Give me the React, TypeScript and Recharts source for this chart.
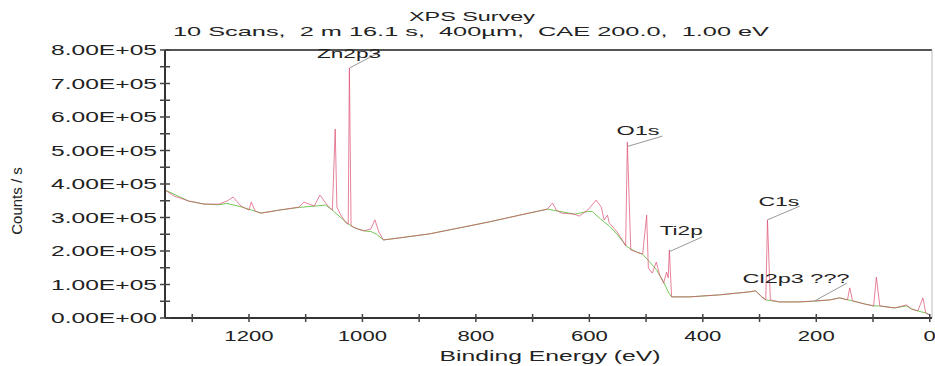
import React from 'react';
import { LineChart, Line, XAxis, YAxis, ReferenceLine, ReferenceDot } from 'recharts';

// survey spectrum, binding energy (eV) vs counts/s
const rawEnergy = [
  1348, 1332, 1306, 1279, 1253, 1239, 1228, 1214, 1200, 1196, 1189, 1179, 1147, 1112, 1103, 1085,
  1075, 1062, 1053, 1048, 1045, 1038, 1029, 1025, 1023, 1020, 1009, 997, 985, 978, 971, 963, 935,
  882, 829, 776, 723, 674, 665, 658, 649, 626, 618, 603, 588, 579, 574, 568, 565, 551, 542, 536,
  533, 527, 517, 506, 499, 496, 489, 482, 476, 469, 464, 461, 459, 455, 424, 371, 318, 307, 296,
  289, 286, 281, 265, 229, 203, 176, 159, 145, 141, 136, 115, 99, 94, 88, 62, 41, 32, 21, 12, 7, 0,
];
const rawCounts = [
  382000, 364000, 349000, 340000, 340000, 349000, 361000, 334000, 322000, 346000, 319000, 313000,
  322000, 331000, 346000, 334000, 367000, 337000, 322000, 564000, 331000, 307000, 284000, 280000,
  746000, 275000, 266000, 260000, 266000, 293000, 257000, 233000, 239000, 251000, 269000, 287000,
  307000, 325000, 343000, 322000, 313000, 310000, 304000, 322000, 352000, 331000, 293000, 307000,
  284000, 257000, 233000, 215000, 525000, 203000, 197000, 191000, 307000, 149000, 134000, 167000,
  128000, 104000, 137000, 120000, 203000, 63000, 63000, 69000, 78000, 81000, 63000, 54000, 293000,
  54000, 48000, 48000, 51000, 54000, 60000, 54000, 90000, 51000, 42000, 36000, 122000, 36000,
  30000, 39000, 27000, 21000, 60000, 15000, 9000,
];

// fitted background
const bgEnergy = [
  1348, 1306, 1279, 1253, 1239, 1214, 1189, 1179, 1147, 1112, 1085, 1065, 1055, 1045, 1035, 1025,
  1015, 997, 985, 975, 963, 935, 882, 829, 776, 723, 674, 658, 626, 603, 595, 580, 565, 551, 542,
  533, 517, 506, 496, 482, 470, 460, 455, 424, 371, 318, 307, 296, 289, 281, 265, 229, 203, 176,
  159, 136, 115, 99, 88, 62, 41, 32, 21, 7, 0,
];
const bgCounts = [
  382000, 349000, 340000, 338000, 342000, 332000, 319000, 313000, 322000, 330000, 334000, 337000,
  325000, 310000, 295000, 281000, 270000, 260000, 258000, 250000, 233000, 239000, 251000, 269000,
  287000, 307000, 325000, 320000, 310000, 318000, 318000, 295000, 275000, 250000, 230000, 212000,
  197000, 190000, 172000, 145000, 110000, 75000, 63000, 63000, 69000, 78000, 81000, 63000, 54000,
  52000, 48000, 48000, 50000, 54000, 60000, 51000, 42000, 36000, 36000, 30000, 36000, 27000,
  21000, 15000, 9000,
];

const xTicks = [0, 100, 200, 300, 400, 500, 600, 700, 800, 900, 1000, 1100, 1200, 1300];
const yTicks = [
  0, 50000, 100000, 150000, 200000, 250000, 300000, 350000, 400000, 450000, 500000, 550000,
  600000, 650000, 700000, 750000, 800000,
];

// peak labels: peak position, label anchor, end of leader line
const peakNames = ['Zn2p3', 'O1s', 'Ti2p', 'C1s', 'Cl2p3 ???'];
const peakEnergy = [1023, 533, 459, 286, 203];
const peakCounts = [746000, 512000, 198000, 293000, 51000];
const labelEnergy = [1080, 552, 476, 302, 330];
const labelCounts = [776000, 546000, 248000, 334000, 104000];
const leaderEnergy = [969, 471, 401, 229, 146];
const leaderCounts = [794000, 543000, 242000, 334000, 104000];
const labelWidth = [64, 43, 43, 41, 107];

const rawData = rawEnergy.map((e, i) => ({ e, c: rawCounts[i] }));
const bgData = bgEnergy.map((e, i) => ({ e, c: bgCounts[i] }));

const FONT = '"Liberation Sans", Arial, sans-serif';

const sci = (v: number) => {
  if (v === 0) return '0.00E+00';
  const exp = Math.floor(Math.log10(v));
  return `${(v / Math.pow(10, exp)).toFixed(2)}E+${String(exp).padStart(2, '0')}`;
};

const YTick = (props: any) => {
  const { x, y, payload } = props;
  const v = payload.value;
  return (
    <g>
      <line x1={x - 5} x2={x + 5} y1={y} y2={y} stroke="#444" strokeWidth={1.5} />
      {v % 100000 === 0 && (
        <text x={x - 8} y={y + 5} textAnchor="end" fontSize={14} fontFamily={FONT} fill="#222"
          textLength={106} lengthAdjust="spacingAndGlyphs">
          {sci(v)}
        </text>
      )}
    </g>
  );
};

const XTick = (props: any) => {
  const { x, y, payload } = props;
  const v = payload.value;
  const label = String(v);
  return (
    <g>
      <line x1={x} x2={x} y1={y - 4} y2={y + 4} stroke="#444" strokeWidth={1.5} />
      {v % 200 === 0 && (
        <text x={x} y={y + 23} textAnchor="middle" fontSize={14} fontFamily={FONT} fill="#222"
          textLength={label.length * 12.3} lengthAdjust="spacingAndGlyphs">
          {label}
        </text>
      )}
    </g>
  );
};

const PeakLabel = (name: string, width: number) => (props: any) => (
  <text x={props.cx} y={props.cy} fontSize={13} fontFamily={FONT} fill="#222"
    textLength={width} lengthAdjust="spacingAndGlyphs" style={{ whiteSpace: 'pre' }}>
    {name}
  </text>
);

export default function App() {
  return (
    <div style={{ position: 'absolute', left: 0, top: 0, background: '#fff' }}>
      <LineChart width={935} height={366} margin={{ top: 50, right: 3, bottom: 0, left: 0 }}>
        <text x={472} y={21} textAnchor="middle" fontSize={13} fontFamily={FONT} fill="#222"
          textLength={126} lengthAdjust="spacingAndGlyphs">
          XPS Survey
        </text>
        <text x={471} y={36} textAnchor="middle" fontSize={13} fontFamily={FONT} fill="#222"
          textLength={596} lengthAdjust="spacingAndGlyphs" style={{ whiteSpace: 'pre' }}>
          {'10 Scans,  2 m 16.1 s,  400µm,  CAE 200.0,  1.00 eV'}
        </text>
        <g transform="translate(22,201)">
          <text x={0} y={0} transform="rotate(-90)" textAnchor="middle" fill="#222"
            style={{ fontSize: 15, fontFamily: FONT }}>
            Counts / s
          </text>
        </g>
        <text x={550} y={361} textAnchor="middle" fontSize={14} fontFamily={FONT} fill="#222"
          textLength={221} lengthAdjust="spacingAndGlyphs">
          Binding Energy (eV)
        </text>
        <XAxis dataKey="e" type="number" domain={[-4, 1348]} reversed allowDataOverflow
          ticks={xTicks} interval={0} tick={<XTick />} tickLine={false} tickSize={0} tickMargin={0}
          height={48} axisLine={{ stroke: '#333', strokeWidth: 2 }} />
        <YAxis type="number" domain={[0, 800000]} ticks={yTicks} interval={0} tick={<YTick />}
          tickLine={false} tickSize={0} tickMargin={0} width={165}
          axisLine={{ stroke: '#333', strokeWidth: 2 }} />
        <ReferenceLine y={800000} stroke="#555" strokeWidth={2} />
        <ReferenceLine x={-4} stroke="#bbb" strokeWidth={1} />
        <Line data={bgData} dataKey="c" type="linear" stroke="#74c957" strokeWidth={1}
          dot={false} isAnimationActive={false} />
        <Line data={rawData} dataKey="c" type="linear" stroke="#dc4d70" strokeOpacity={0.7}
          strokeWidth={1} dot={false} isAnimationActive={false} />
        {peakNames.map((name, i) => (
          <ReferenceLine key={'l' + name} ifOverflow="visible" stroke="#999" strokeWidth={1}
            segment={[{ x: leaderEnergy[i], y: leaderCounts[i] }, { x: peakEnergy[i], y: peakCounts[i] }]} />
        ))}
        {peakNames.map((name, i) => (
          <ReferenceDot key={'t' + name} x={labelEnergy[i]} y={labelCounts[i]} r={1}
            ifOverflow="visible" shape={PeakLabel(name, labelWidth[i])} />
        ))}
      </LineChart>
    </div>
  );
}
